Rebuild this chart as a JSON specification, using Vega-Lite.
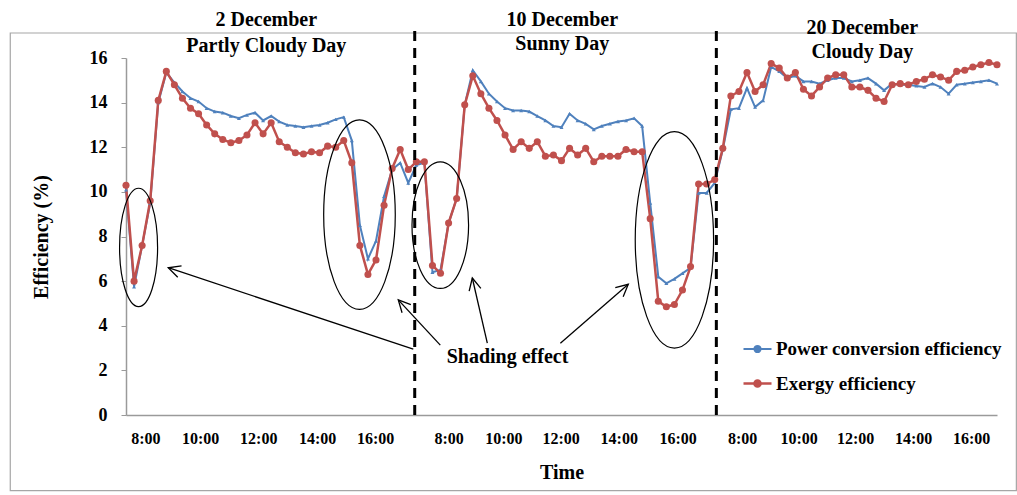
{
  "$schema": "https://vega.github.io/schema/vega-lite/v6.json",
  "width": 871,
  "height": 357,
  "autosize": {"type": "none"},
  "padding": {"left": 126, "top": 58, "right": 20, "bottom": 80},
  "background": "white",
  "config": {"view": {"stroke": null}, "font": "Liberation Serif"},
  "datasets": {
    "eff": [
      {"i":0,"Power conversion efficiency":10.1,"Exergy efficiency":10.3},
      {"i":1,"Power conversion efficiency":5.75,"Exergy efficiency":6.0},
      {"i":2,"Power conversion efficiency":7.6,"Exergy efficiency":7.6},
      {"i":3,"Power conversion efficiency":9.5,"Exergy efficiency":9.6},
      {"i":4,"Power conversion efficiency":14.0,"Exergy efficiency":14.1},
      {"i":5,"Power conversion efficiency":15.35,"Exergy efficiency":15.4},
      {"i":6,"Power conversion efficiency":14.9,"Exergy efficiency":14.8},
      {"i":7,"Power conversion efficiency":14.5,"Exergy efficiency":14.2},
      {"i":8,"Power conversion efficiency":14.2,"Exergy efficiency":13.75},
      {"i":9,"Power conversion efficiency":14.05,"Exergy efficiency":13.5},
      {"i":10,"Power conversion efficiency":13.75,"Exergy efficiency":13.0},
      {"i":11,"Power conversion efficiency":13.6,"Exergy efficiency":12.6},
      {"i":12,"Power conversion efficiency":13.55,"Exergy efficiency":12.35},
      {"i":13,"Power conversion efficiency":13.4,"Exergy efficiency":12.2},
      {"i":14,"Power conversion efficiency":13.3,"Exergy efficiency":12.3},
      {"i":15,"Power conversion efficiency":13.45,"Exergy efficiency":12.55},
      {"i":16,"Power conversion efficiency":13.55,"Exergy efficiency":13.1},
      {"i":17,"Power conversion efficiency":13.2,"Exergy efficiency":12.6},
      {"i":18,"Power conversion efficiency":13.4,"Exergy efficiency":13.1},
      {"i":19,"Power conversion efficiency":13.15,"Exergy efficiency":12.25},
      {"i":20,"Power conversion efficiency":13.0,"Exergy efficiency":12.0},
      {"i":21,"Power conversion efficiency":12.95,"Exergy efficiency":11.75},
      {"i":22,"Power conversion efficiency":12.9,"Exergy efficiency":11.7},
      {"i":23,"Power conversion efficiency":12.95,"Exergy efficiency":11.8},
      {"i":24,"Power conversion efficiency":13.0,"Exergy efficiency":11.75},
      {"i":25,"Power conversion efficiency":13.1,"Exergy efficiency":12.05},
      {"i":26,"Power conversion efficiency":13.25,"Exergy efficiency":12.0},
      {"i":27,"Power conversion efficiency":13.35,"Exergy efficiency":12.3},
      {"i":28,"Power conversion efficiency":12.3,"Exergy efficiency":11.3},
      {"i":29,"Power conversion efficiency":8.5,"Exergy efficiency":7.6},
      {"i":30,"Power conversion efficiency":7.0,"Exergy efficiency":6.3},
      {"i":31,"Power conversion efficiency":7.8,"Exergy efficiency":6.95},
      {"i":32,"Power conversion efficiency":9.8,"Exergy efficiency":9.4},
      {"i":33,"Power conversion efficiency":11.0,"Exergy efficiency":11.05},
      {"i":34,"Power conversion efficiency":11.3,"Exergy efficiency":11.9},
      {"i":35,"Power conversion efficiency":10.4,"Exergy efficiency":11.0},
      {"i":36,"Power conversion efficiency":11.2,"Exergy efficiency":11.35},
      {"i":37,"Power conversion efficiency":11.3,"Exergy efficiency":11.35},
      {"i":38,"Power conversion efficiency":6.4,"Exergy efficiency":6.7},
      {"i":39,"Power conversion efficiency":6.5,"Exergy efficiency":6.35},
      {"i":40,"Power conversion efficiency":8.6,"Exergy efficiency":8.6},
      {"i":41,"Power conversion efficiency":9.7,"Exergy efficiency":9.7},
      {"i":42,"Power conversion efficiency":13.9,"Exergy efficiency":13.9},
      {"i":43,"Power conversion efficiency":15.45,"Exergy efficiency":15.2},
      {"i":44,"Power conversion efficiency":14.95,"Exergy efficiency":14.4},
      {"i":45,"Power conversion efficiency":14.4,"Exergy efficiency":13.75},
      {"i":46,"Power conversion efficiency":14.05,"Exergy efficiency":13.2},
      {"i":47,"Power conversion efficiency":13.75,"Exergy efficiency":12.55},
      {"i":48,"Power conversion efficiency":13.65,"Exergy efficiency":11.9},
      {"i":49,"Power conversion efficiency":13.65,"Exergy efficiency":12.25},
      {"i":50,"Power conversion efficiency":13.6,"Exergy efficiency":11.95},
      {"i":51,"Power conversion efficiency":13.4,"Exergy efficiency":12.25},
      {"i":52,"Power conversion efficiency":13.2,"Exergy efficiency":11.6},
      {"i":53,"Power conversion efficiency":12.95,"Exergy efficiency":11.65},
      {"i":54,"Power conversion efficiency":12.9,"Exergy efficiency":11.4},
      {"i":55,"Power conversion efficiency":13.5,"Exergy efficiency":11.95},
      {"i":56,"Power conversion efficiency":13.2,"Exergy efficiency":11.65},
      {"i":57,"Power conversion efficiency":13.05,"Exergy efficiency":11.95},
      {"i":58,"Power conversion efficiency":12.8,"Exergy efficiency":11.35},
      {"i":59,"Power conversion efficiency":12.95,"Exergy efficiency":11.6},
      {"i":60,"Power conversion efficiency":13.05,"Exergy efficiency":11.6},
      {"i":61,"Power conversion efficiency":13.15,"Exergy efficiency":11.6},
      {"i":62,"Power conversion efficiency":13.2,"Exergy efficiency":11.9},
      {"i":63,"Power conversion efficiency":13.3,"Exergy efficiency":11.8},
      {"i":64,"Power conversion efficiency":12.95,"Exergy efficiency":11.8},
      {"i":65,"Power conversion efficiency":9.5,"Exergy efficiency":8.8},
      {"i":66,"Power conversion efficiency":6.2,"Exergy efficiency":5.1},
      {"i":67,"Power conversion efficiency":5.9,"Exergy efficiency":4.85},
      {"i":68,"Power conversion efficiency":6.1,"Exergy efficiency":4.95},
      {"i":69,"Power conversion efficiency":6.35,"Exergy efficiency":5.6},
      {"i":70,"Power conversion efficiency":6.6,"Exergy efficiency":6.65},
      {"i":71,"Power conversion efficiency":9.95,"Exergy efficiency":10.35},
      {"i":72,"Power conversion efficiency":9.95,"Exergy efficiency":10.35},
      {"i":73,"Power conversion efficiency":10.4,"Exergy efficiency":10.55},
      {"i":74,"Power conversion efficiency":11.9,"Exergy efficiency":11.95},
      {"i":75,"Power conversion efficiency":13.7,"Exergy efficiency":14.3},
      {"i":76,"Power conversion efficiency":13.75,"Exergy efficiency":14.5},
      {"i":77,"Power conversion efficiency":14.65,"Exergy efficiency":15.35},
      {"i":78,"Power conversion efficiency":13.8,"Exergy efficiency":14.5},
      {"i":79,"Power conversion efficiency":14.1,"Exergy efficiency":14.8},
      {"i":80,"Power conversion efficiency":15.6,"Exergy efficiency":15.75},
      {"i":81,"Power conversion efficiency":15.4,"Exergy efficiency":15.55},
      {"i":82,"Power conversion efficiency":15.1,"Exergy efficiency":15.1},
      {"i":83,"Power conversion efficiency":15.2,"Exergy efficiency":15.35},
      {"i":84,"Power conversion efficiency":14.95,"Exergy efficiency":14.6},
      {"i":85,"Power conversion efficiency":14.95,"Exergy efficiency":14.3},
      {"i":86,"Power conversion efficiency":14.85,"Exergy efficiency":14.7},
      {"i":87,"Power conversion efficiency":15.0,"Exergy efficiency":15.1},
      {"i":88,"Power conversion efficiency":15.1,"Exergy efficiency":15.25},
      {"i":89,"Power conversion efficiency":15.1,"Exergy efficiency":15.25},
      {"i":90,"Power conversion efficiency":14.95,"Exergy efficiency":14.7},
      {"i":91,"Power conversion efficiency":15.0,"Exergy efficiency":14.7},
      {"i":92,"Power conversion efficiency":15.1,"Exergy efficiency":14.55},
      {"i":93,"Power conversion efficiency":14.85,"Exergy efficiency":14.2},
      {"i":94,"Power conversion efficiency":14.55,"Exergy efficiency":14.05},
      {"i":95,"Power conversion efficiency":14.85,"Exergy efficiency":14.8},
      {"i":96,"Power conversion efficiency":14.8,"Exergy efficiency":14.85},
      {"i":97,"Power conversion efficiency":14.8,"Exergy efficiency":14.8},
      {"i":98,"Power conversion efficiency":14.75,"Exergy efficiency":14.95},
      {"i":99,"Power conversion efficiency":14.7,"Exergy efficiency":15.05},
      {"i":100,"Power conversion efficiency":14.85,"Exergy efficiency":15.25},
      {"i":101,"Power conversion efficiency":14.7,"Exergy efficiency":15.15},
      {"i":102,"Power conversion efficiency":14.4,"Exergy efficiency":15.0},
      {"i":103,"Power conversion efficiency":14.8,"Exergy efficiency":15.4},
      {"i":104,"Power conversion efficiency":14.85,"Exergy efficiency":15.45},
      {"i":105,"Power conversion efficiency":14.9,"Exergy efficiency":15.6},
      {"i":106,"Power conversion efficiency":14.95,"Exergy efficiency":15.7},
      {"i":107,"Power conversion efficiency":15.0,"Exergy efficiency":15.8},
      {"i":108,"Power conversion efficiency":14.85,"Exergy efficiency":15.7}
    ]
  },
  "data": {"name": "eff"},
  "layer": [
    {
      "data": {"values": [{}]},
      "mark": {"type": "rect", "filled": false, "stroke": "#a6a6a6", "strokeWidth": 1.2},
      "encoding": {
        "x": {"datum": -14.35, "type": "quantitative"},
        "x2": {"datum": 110.4},
        "y": {"datum": -3.39, "type": "quantitative"},
        "y2": {"datum": 17.12}
      }
    },
    {
      "transform": [{"fold": ["Power conversion efficiency", "Exergy efficiency"], "as": ["series", "value"]}],
      "mark": {"type": "line"},
      "encoding": {
        "x": {
          "field": "i", "type": "quantitative",
          "scale": {"domain": [0, 108], "nice": false, "zero": false},
          "axis": {
            "title": "Time",
            "values": [2.4, 9.2, 16.4, 23.7, 30.9, 40, 46.8, 53.9, 61.1, 68.4, 76.4, 83.4, 90.4, 97.6, 104.8],
            "labelExpr": "['8:00','10:00','12:00','14:00','16:00'][indexof([2.4, 9.2, 16.4, 23.7, 30.9, 40, 46.8, 53.9, 61.1, 68.4, 76.4, 83.4, 90.4, 97.6, 104.8], datum.value) % 5]",
            "grid": false, "ticks": false, "tickSize": 0,
            "domainColor": "#9a9a9a", "domainWidth": 1.5,
            "labelFont": "Liberation Serif", "labelFontWeight": "bold", "labelFontSize": 16, "labelColor": "black",
            "labelPadding": 15, "labelFlush": false, "labelOverlap": false,
            "titleFont": "Liberation Serif", "titleFontWeight": "bold", "titleFontSize": 20, "titleColor": "black",
            "titlePadding": 16
          }
        },
        "y": {
          "field": "value", "type": "quantitative",
          "scale": {"domain": [0, 16], "nice": false},
          "axis": {
            "title": "Efficiency (%)",
            "values": [0, 2, 4, 6, 8, 10, 12, 14, 16],
            "grid": false, "tickSize": 5, "tickColor": "#9a9a9a",
            "domainColor": "#9a9a9a", "domainWidth": 1.5,
            "labelFont": "Liberation Serif", "labelFontWeight": "bold", "labelFontSize": 18, "labelColor": "black",
            "labelPadding": 14,
            "titleFont": "Liberation Serif", "titleFontWeight": "bold", "titleFontSize": 20, "titleColor": "black",
            "titlePadding": 38
          }
        },
        "color": {
          "field": "series", "type": "nominal",
          "scale": {"domain": ["Power conversion efficiency", "Exergy efficiency"], "range": ["#4F81BD", "#C0504D"]},
          "legend": {
            "title": null, "orient": "none", "legendX": 616, "legendY": 276,
            "symbolType": "M -1 0 L 1 0 M -0.22 0 A 0.22 0.22 0 1 1 0.22 0 A 0.22 0.22 0 1 1 -0.22 0 Z",
            "symbolSize": 784, "symbolStrokeWidth": 2,
            "labelFont": "Liberation Serif", "labelFontWeight": "bold", "labelFontSize": 19, "labelColor": "black",
            "labelLimit": 400, "labelOffset": 3, "rowPadding": 9,
            "encode": {"symbols": {"update": {
              "fill": {"scale": "color", "field": "value"},
              "stroke": {"scale": "color", "field": "value"},
              "opacity": {"value": 1}}}}
          }
        },
        "strokeWidth": {
          "field": "series", "type": "nominal",
          "scale": {"domain": ["Power conversion efficiency", "Exergy efficiency"], "range": [2, 2.5]},
          "legend": null
        }
      }
    },
    {
      "transform": [
        {"fold": ["Power conversion efficiency", "Exergy efficiency"], "as": ["series", "value"]},
        {"filter": "datum.series === 'Power conversion efficiency'"}
      ],
      "mark": {"type": "point", "filled": true, "opacity": 1, "shape": "triangle-up", "size": 16, "color": "#4F81BD"},
      "encoding": {
        "x": {"field": "i", "type": "quantitative"},
        "y": {"field": "value", "type": "quantitative"}
      }
    },
    {
      "transform": [
        {"fold": ["Power conversion efficiency", "Exergy efficiency"], "as": ["series", "value"]},
        {"filter": "datum.series === 'Exergy efficiency'"}
      ],
      "mark": {"type": "point", "filled": true, "opacity": 1, "shape": "circle", "size": 50, "color": "#C0504D"},
      "encoding": {
        "x": {"field": "i", "type": "quantitative"},
        "y": {"field": "value", "type": "quantitative"}
      }
    },
    {
      "data": {"values": [{}]},
      "mark": {"type": "rule", "color": "black", "strokeWidth": 3, "strokeDash": [10, 7]},
      "encoding": {"x": {"datum": 35.8, "type": "quantitative"}, "y": {"datum": 0, "type": "quantitative"}, "y2": {"datum": 17.25}}
    },
    {
      "data": {"values": [{}]},
      "mark": {"type": "rule", "color": "black", "strokeWidth": 3, "strokeDash": [10, 7]},
      "encoding": {"x": {"datum": 73.2, "type": "quantitative"}, "y": {"datum": 0, "type": "quantitative"}, "y2": {"datum": 17.25}}
    },
    {
      "data": {"values": [{}]},
      "mark": {"type": "point", "filled": false, "opacity": 1, "stroke": "black", "strokeWidth": 1.2, "size": 14019,
        "shape": "M 0 -1 C 0.1773 -1 0.321 -0.5523 0.321 0 C 0.321 0.5523 0.1773 1 0 1 C -0.1773 1 -0.321 0.5523 -0.321 0 C -0.321 -0.5523 -0.1773 -1 0 -1 Z"},
      "encoding": {"x": {"datum": 1.56, "type": "quantitative"}, "y": {"datum": 7.51, "type": "quantitative"}}
    },
    {
      "data": {"values": [{}]},
      "mark": {"type": "point", "filled": false, "opacity": 1, "stroke": "black", "strokeWidth": 1.2, "size": 35872,
        "shape": "M 0 -1 C 0.2088 -1 0.378 -0.5523 0.378 0 C 0.378 0.5523 0.2088 1 0 1 C -0.2088 1 -0.378 0.5523 -0.378 0 C -0.378 -0.5523 -0.2088 -1 0 -1 Z"},
      "encoding": {"x": {"datum": 28.95, "type": "quantitative"}, "y": {"datum": 8.98, "type": "quantitative"}}
    },
    {
      "data": {"values": [{}]},
      "mark": {"type": "point", "filled": false, "opacity": 1, "stroke": "black", "strokeWidth": 1.2, "size": 16028,
        "shape": "M 0 -1 C 0.2469 -1 0.447 -0.5523 0.447 0 C 0.447 0.5523 0.2469 1 0 1 C -0.2469 1 -0.447 0.5523 -0.447 0 C -0.447 -0.5523 -0.2469 -1 0 -1 Z"},
      "encoding": {"x": {"datum": 38.97, "type": "quantitative"}, "y": {"datum": 8.51, "type": "quantitative"}}
    },
    {
      "data": {"values": [{}]},
      "mark": {"type": "point", "filled": false, "opacity": 1, "stroke": "black", "strokeWidth": 1.2, "size": 46829,
        "shape": "M 0 -1 C 0.2 -1 0.362 -0.5523 0.362 0 C 0.362 0.5523 0.2 1 0 1 C -0.2 1 -0.362 0.5523 -0.362 0 C -0.362 -0.5523 -0.2 -1 0 -1 Z"},
      "encoding": {"x": {"datum": 68.0, "type": "quantitative"}, "y": {"datum": 7.85, "type": "quantitative"}}
    },
    {
      "data": {"values": [{}]},
      "mark": {"type": "rule", "color": "black", "strokeWidth": 1.3},
      "encoding": {"x": {"datum": 35.62, "type": "quantitative"}, "y": {"datum": 2.95, "type": "quantitative"}, "x2": {"datum": 5.24}, "y2": {"datum": 6.6}}
    },
    {
      "data": {"values": [{}]},
      "mark": {"type": "rule", "color": "black", "strokeWidth": 1.3},
      "encoding": {"x": {"datum": 38.97, "type": "quantitative"}, "y": {"datum": 3.13, "type": "quantitative"}, "x2": {"datum": 33.76}, "y2": {"datum": 5.16}}
    },
    {
      "data": {"values": [{}]},
      "mark": {"type": "rule", "color": "black", "strokeWidth": 1.3},
      "encoding": {"x": {"datum": 44.8, "type": "quantitative"}, "y": {"datum": 3.22, "type": "quantitative"}, "x2": {"datum": 42.94}, "y2": {"datum": 6.14}}
    },
    {
      "data": {"values": [{}]},
      "mark": {"type": "rule", "color": "black", "strokeWidth": 1.3},
      "encoding": {"x": {"datum": 53.86, "type": "quantitative"}, "y": {"datum": 3.22, "type": "quantitative"}, "x2": {"datum": 62.28}, "y2": {"datum": 5.86}}
    },
    {
      "data": {"values": [{}]},
      "mark": {"type": "point", "filled": false, "opacity": 1, "stroke": "black", "strokeWidth": 1.3, "size": 576, "angle": 198.5, "shape": "M -1 -0.5 L 0 0 L -1 0.5"},
      "encoding": {"x": {"datum": 5.24, "type": "quantitative"}, "y": {"datum": 6.6, "type": "quantitative"}}
    },
    {
      "data": {"values": [{}]},
      "mark": {"type": "point", "filled": false, "opacity": 1, "stroke": "black", "strokeWidth": 1.3, "size": 576, "angle": 227, "shape": "M -1 -0.5 L 0 0 L -1 0.5"},
      "encoding": {"x": {"datum": 33.76, "type": "quantitative"}, "y": {"datum": 5.16, "type": "quantitative"}}
    },
    {
      "data": {"values": [{}]},
      "mark": {"type": "point", "filled": false, "opacity": 1, "stroke": "black", "strokeWidth": 1.3, "size": 576, "angle": 257, "shape": "M -1 -0.5 L 0 0 L -1 0.5"},
      "encoding": {"x": {"datum": 42.94, "type": "quantitative"}, "y": {"datum": 6.14, "type": "quantitative"}}
    },
    {
      "data": {"values": [{}]},
      "mark": {"type": "point", "filled": false, "opacity": 1, "stroke": "black", "strokeWidth": 1.3, "size": 576, "angle": 319, "shape": "M -1 -0.5 L 0 0 L -1 0.5"},
      "encoding": {"x": {"datum": 62.28, "type": "quantitative"}, "y": {"datum": 5.86, "type": "quantitative"}}
    },
    {
      "data": {"values": [{}]},
      "mark": {"type": "text", "text": "Shading effect", "font": "Liberation Serif", "fontWeight": "bold", "fontSize": 20, "color": "black", "align": "center", "baseline": "middle"},
      "encoding": {"x": {"datum": 47.3, "type": "quantitative"}, "y": {"datum": 2.61, "type": "quantitative"}}
    },
    {
      "data": {"values": [{}]},
      "mark": {"type": "text", "text": "2 December", "font": "Liberation Serif", "fontWeight": "bold", "fontSize": 20, "color": "black", "align": "center", "baseline": "middle"},
      "encoding": {"x": {"datum": 17.4, "type": "quantitative"}, "y": {"datum": 17.69, "type": "quantitative"}}
    },
    {
      "data": {"values": [{}]},
      "mark": {"type": "text", "text": "Partly Cloudy Day", "font": "Liberation Serif", "fontWeight": "bold", "fontSize": 20, "color": "black", "align": "center", "baseline": "middle"},
      "encoding": {"x": {"datum": 17.4, "type": "quantitative"}, "y": {"datum": 16.52, "type": "quantitative"}}
    },
    {
      "data": {"values": [{}]},
      "mark": {"type": "text", "text": "10 December", "font": "Liberation Serif", "fontWeight": "bold", "fontSize": 20, "color": "black", "align": "center", "baseline": "middle"},
      "encoding": {"x": {"datum": 54.1, "type": "quantitative"}, "y": {"datum": 17.69, "type": "quantitative"}}
    },
    {
      "data": {"values": [{}]},
      "mark": {"type": "text", "text": "Sunny Day", "font": "Liberation Serif", "fontWeight": "bold", "fontSize": 20, "color": "black", "align": "center", "baseline": "middle"},
      "encoding": {"x": {"datum": 54.1, "type": "quantitative"}, "y": {"datum": 16.61, "type": "quantitative"}}
    },
    {
      "data": {"values": [{}]},
      "mark": {"type": "text", "text": "20 December", "font": "Liberation Serif", "fontWeight": "bold", "fontSize": 20, "color": "black", "align": "center", "baseline": "middle"},
      "encoding": {"x": {"datum": 91.3, "type": "quantitative"}, "y": {"datum": 17.33, "type": "quantitative"}}
    },
    {
      "data": {"values": [{}]},
      "mark": {"type": "text", "text": "Cloudy Day", "font": "Liberation Serif", "fontWeight": "bold", "fontSize": 20, "color": "black", "align": "center", "baseline": "middle"},
      "encoding": {"x": {"datum": 91.3, "type": "quantitative"}, "y": {"datum": 16.25, "type": "quantitative"}}
    }
  ]
}
